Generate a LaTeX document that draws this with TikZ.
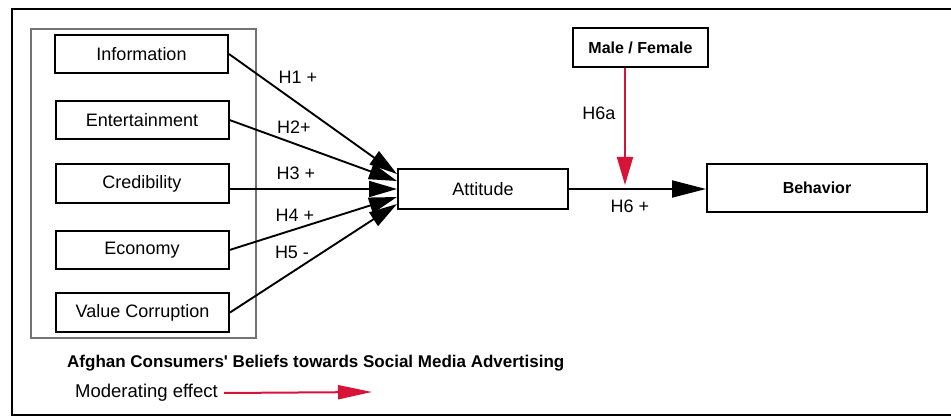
\documentclass[tikz,border=0pt]{standalone}
\usepackage{fontspec}
\setmainfont{Liberation Sans}
\usepackage{tikz}
\usepackage{xcolor}
\usetikzlibrary{arrows.meta, positioning}
\definecolor{modred}{RGB}{215,20,55}
\newcommand{\boxfont}{\fontsize{18}{20}\selectfont}
\newcommand{\boldfont}{\bfseries\fontsize{16}{18}\selectfont}

\begin{document}
\begin{tikzpicture}[x=1pt, y=-1pt,
  box/.style={draw, line width=2pt, minimum height=38pt, inner sep=0pt, font=\boxfont},
  belief/.style={box, minimum width=173pt},
  hyp/.style={font=\boxfont},
  path/.style={line width=1.9pt, -{Triangle[length=28pt, width=16pt]}},
  modarrow/.style={modred, line width=2pt, -{Triangle[length=28pt, width=16pt]}}]
\clip (0,0) rectangle (951,417); % picture size
\draw[line width=2pt] (12,9) rectangle (970,415);
\draw[line width=1.4pt, black!55] (31,29) rectangle (256,338); % group of beliefs
% the five beliefs
\node[belief] (info) at (141.5,54) {Information};
\node[belief] (ent) at (142,120) {Entertainment};
\node[belief, minimum height=39pt] (cred) at (142,183.5) {Credibility};
\node[belief] (econ) at (142,250) {Economy};
\node[belief, minimum height=39pt] (valc) at (142.5,312.5) {Value Corruption};
\node[box, minimum width=170pt, minimum height=40pt] (att) at (483,189) {Attitude};
\node[box, minimum width=220pt, minimum height=47pt, font=\boldfont] (beh) at (817,188) {Behavior};
\node[box, minimum width=135pt, minimum height=39pt, font=\boldfont] (mf) at (640.5,47.5) {Male / Female};
% hypotheses
\draw[path] (info.east) -- ([yshift=15pt]att.west);
\draw[path] (ent.east) -- ([yshift=8pt]att.west);
\draw[path] (cred.east |- att.west) -- (att.west);
\draw[path] (econ.east) -- ([yshift=-8pt]att.west);
\draw[path] (valc.east) -- ([yshift=-15pt]att.west);
\node[hyp] (h1) at (298,77) {H1 +};
\node[hyp] (h2) at (294,127) {H2+};
\node[hyp] (h3) at (296,173) {H3 +};
\node[hyp] (h4) at (295,215) {H4 +};
\node[hyp] (h5) at (292,252) {H5 -};
\draw[line width=1.9pt, -{Triangle[length=34pt, width=17pt]}] (att.east) -- (att.east -| beh.west);
\node[hyp] (h6) at (630,206) {H6 +};
\coordinate (mod) at (625,185);
\draw[modarrow] (mf.south -| mod) -- (mod);
\node[hyp] (h6a) at (599,113) {H6a};
% legend
\node[font=\bfseries\fontsize{17}{19}\selectfont, anchor=west, inner sep=0pt] (cap) at (67,363) {Afghan Consumers\textquotesingle{} Beliefs towards Social Media Advertising};
\node[font=\fontsize{18.5}{20}\selectfont, anchor=west, inner sep=0pt] (legmod) at (75,393) {Moderating effect};
\coordinate (legend) at (372,392);
\draw[modarrow, -{Triangle[length=34pt, width=14pt]}] ([xshift=6pt]legmod.east) -- (legend);
\end{tikzpicture}
\end{document}
